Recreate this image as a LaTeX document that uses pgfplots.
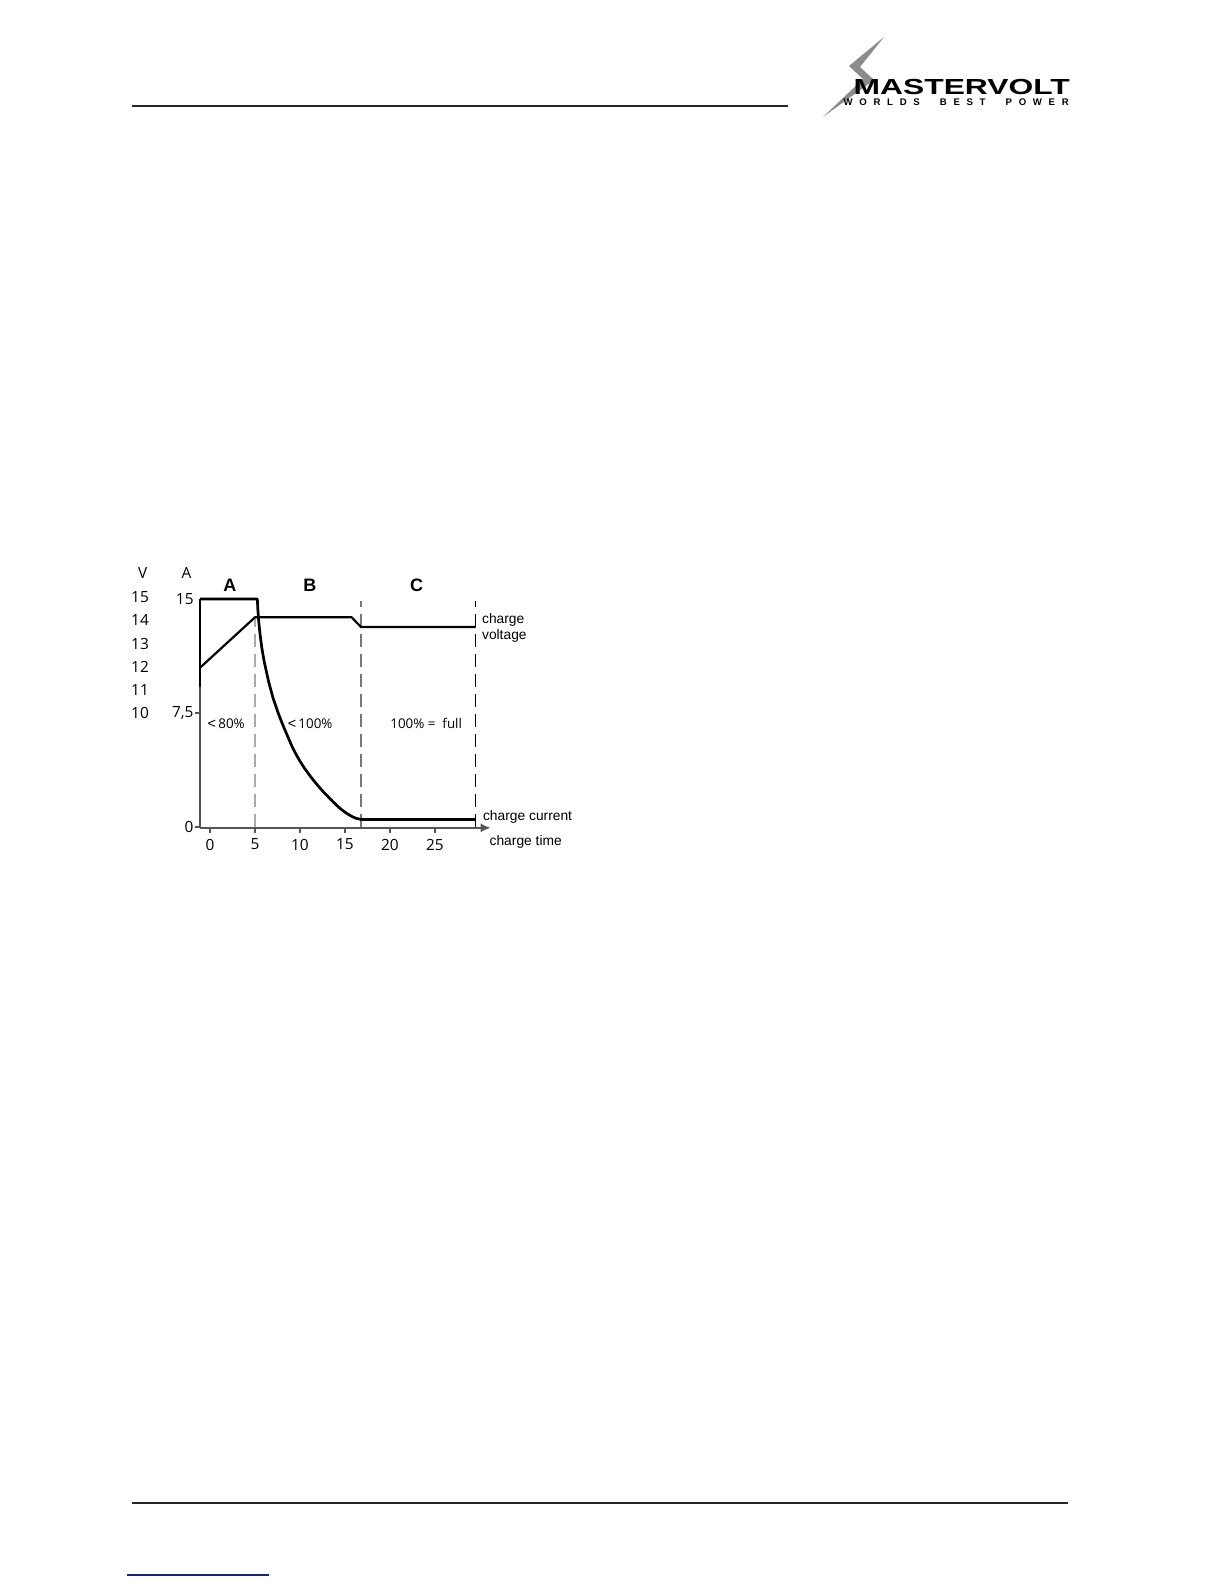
\documentclass[border=0pt]{standalone}
\usepackage{fontspec}
\setmainfont{Liberation Sans}
\newfontfamily\osans{Open Sans}
\usepackage{graphicx}
\usepackage{pgfplots}
\pgfplotsset{compat=1.18}
\usetikzlibrary{arrows.meta}
\definecolor{axgray}{HTML}{555555}
\definecolor{dashlight}{HTML}{AAAAAA}
\definecolor{dashmid}{HTML}{777777}
\definecolor{boltgray}{HTML}{8C8C8C}
\definecolor{linkblue}{HTML}{1A237E}
\newcommand{\numfont}{\osans\fontsize{7.7}{8}\selectfont}
\newcommand{\pctfont}{\osans\fontsize{6.7}{7}\selectfont}
\newcommand{\lblfont}{\fontsize{6.9}{7.5}\selectfont}
\newcommand{\lt}{{\rmfamily\fontsize{7.2}{7.5}\selectfont <}}
\begin{document}
\begin{tikzpicture}
\fill[white] (0,0) rectangle (612pt,-792pt);
\path[use as bounding box] (0,0) rectangle (612pt,-792pt);
\begin{scope}[x=0.5pt,y=-0.5pt]
\draw[line width=0.9pt, black!85] (132,106) -- (788,106);
\draw[line width=0.9pt, black!85] (132,1503.3) -- (1068,1503.3);
\draw[line width=1pt, linkblue] (127.3,1575.3) -- (268.7,1575.3);
\fill[boltgray] (884,37) -- (849,66) -- (863,79) -- (823,117) -- (874,80) -- (860,67) -- cycle;
\node[anchor=base west, inner sep=0] at (853.3,95) {\resizebox{108pt}{7.6pt}{\bfseries MASTERVOLT}};
\node[anchor=base west, inner sep=0] at (843.3,105) {\fontsize{4.8}{5}\selectfont\bfseries\makebox[112.5pt][s]{W\hfill O\hfill R\hfill L\hfill D\hfill S\hfill\hfill\hfill B\hfill E\hfill S\hfill T\hfill\hfill\hfill P\hfill O\hfill W\hfill E\hfill R}};
\end{scope}
\begin{axis}[
  at={(100pt,-413.9pt)}, anchor=south west, scale only axis,
  width=145.35pt, height=114.38pt,
  xmin=-1.11, xmax=31.19, ymin=-0.05, ymax=15,
  axis x line*=bottom, axis y line*=left,
  axis line style={axgray, line width=1pt},
  x axis line style={-{Latex[length=5pt,width=4.5pt]}},
  xtick={0,5,10,15,20,25},
  ytick={0,7.5}, yticklabels={0,{7,5}},
  extra y ticks={15}, extra y tick labels={15},
  extra y tick style={major tick length=0pt, yticklabel style={inner xsep=3pt}},
  tick align=outside, major tick length=2.5pt,
  tick style={axgray, line width=0.6pt},
  ticklabel style={font=\numfont},
  xticklabel style={yshift=0.5pt},
  yticklabel style={inner xsep=0.6pt},
  /pgf/number format/assume math mode=true,
  clip=false,
]
\addplot[dashlight, line width=0.7pt, dash pattern=on 6.5pt off 3.5pt] coordinates {(5,0) (5,13.8)};
\addplot[dashmid, line width=0.7pt, dash pattern=on 6.5pt off 3.5pt] coordinates {(16.78,0) (16.78,14.9)};
\addplot[black, line width=0.7pt, dash pattern=on 6.5pt off 3.5pt] coordinates {(29.52,0) (29.52,14.9)};
\addplot[black, line width=0.9pt] coordinates {(-1.11,9.2) (-1.11,15)};
% charge voltage (in A units)
\addplot[black, line width=1.1pt, line join=round] coordinates {
 (-1.11,10.48) (5,13.8) (15.74,13.8) (16.78,13.16) (29.52,13.16)};
% charge current
\addplot[black, line width=1.35pt, line join=round] coordinates {
 (-1.11,15) (5.26,15) (5.32,14.3) (5.42,13.5) (5.56,12.7) (5.74,11.86) (6.0,10.95) (6.5,9.6)
 (7.0,8.5) (7.59,7.48) (8.0,6.85) (8.5,6.15) (9.08,5.35) (9.5,4.85) (10.0,4.33)
 (10.5,3.87) (11.0,3.46) (11.48,3.09) (12.0,2.72) (12.5,2.38) (13.15,1.98)
 (13.7,1.65) (14.2,1.36) (14.63,1.14) (15.19,0.9) (15.7,0.72) (16.2,0.58)
 (16.78,0.5) (29.52,0.5)};
% V scale labels
\node[font=\numfont, xshift=-30pt] at (axis cs:-1.11,15.15) {15};
\node[font=\numfont, xshift=-30pt] at (axis cs:-1.11,13.62) {14};
\node[font=\numfont, xshift=-30pt] at (axis cs:-1.11,12.07) {13};
\node[font=\numfont, xshift=-30pt] at (axis cs:-1.11,10.55) {12};
\node[font=\numfont, xshift=-30pt] at (axis cs:-1.11,9.01) {11};
\node[font=\numfont, xshift=-30pt] at (axis cs:-1.11,7.48) {10};
\node[font=\numfont, xshift=-28.7pt] at (axis cs:-1.11,16.7) {V};
\node[font=\numfont, xshift=-6.7pt] at (axis cs:-1.11,16.7) {A};
% phase labels
\node[font=\bfseries\fontsize{9}{10}\selectfont] at (axis cs:2.22,15.88) {A};
\node[font=\bfseries\fontsize{9}{10}\selectfont] at (axis cs:11.1,15.88) {B};
\node[font=\bfseries\fontsize{9}{10}\selectfont] at (axis cs:22.96,15.88) {C};
% state of charge labels
\node[font=\pctfont] at (axis cs:1.8,6.78) {\lt\,80\%};
\node[font=\pctfont] at (axis cs:11.13,6.78) {\lt\,100\%};
\node[font=\pctfont] at (axis cs:24.02,6.82) {100\% =\ \ full};
% series labels
\node[font=\lblfont, anchor=west, inner sep=0] at (axis cs:30.19,13.62) {charge};
\node[font=\lblfont, anchor=west, inner sep=0] at (axis cs:30.19,12.57) {voltage};
\node[font=\lblfont, anchor=west, inner sep=0] at (axis cs:30.3,0.64) {charge current};
\node[font=\lblfont, anchor=west, inner sep=0] at (axis cs:31.03,-0.97) {charge time};
\end{axis}
\end{tikzpicture}
\end{document}
